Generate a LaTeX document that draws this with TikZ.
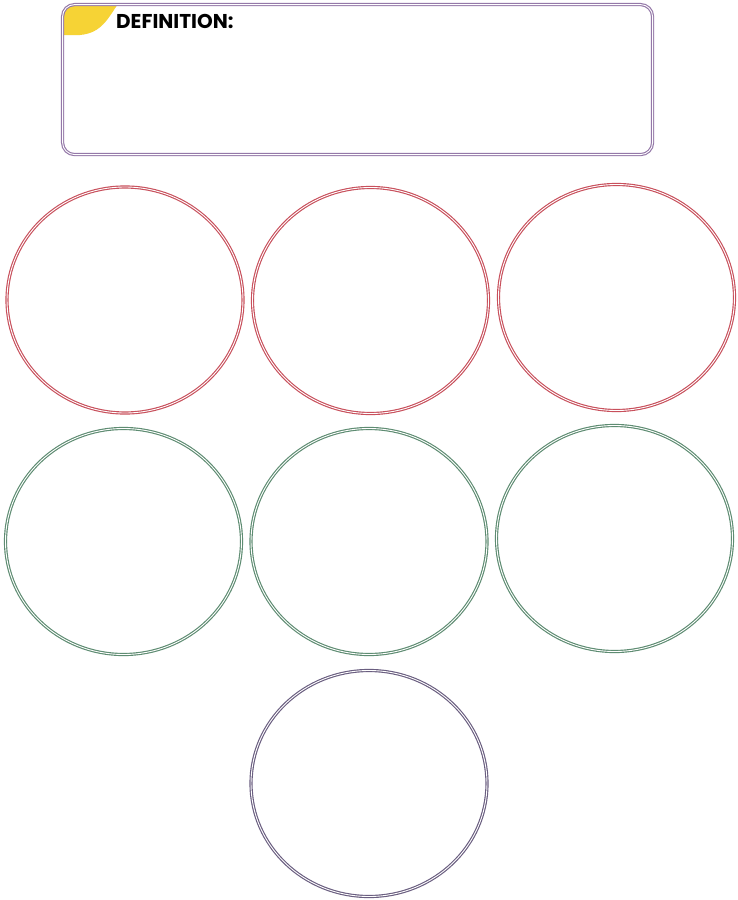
\documentclass[tikz,border=0pt]{standalone}
\usepackage{fontspec}
\setmainfont{Poppins}
\definecolor{cred}{HTML}{C8505C}
\definecolor{cgreen}{HTML}{5E8C72}
\definecolor{cpurple}{HTML}{9478A8}
\definecolor{cviolet}{HTML}{6A5E80}
\definecolor{cyellow}{HTML}{F6D335}
\tikzset{
  ring/.style={draw=#1, double=white, double distance=0.9pt, line width=1.15pt},
  bubble/.style={ring=#1, ellipse, minimum width=236pt, minimum height=226pt, inner sep=0pt}
}
\usetikzlibrary{shapes.geometric}
\begin{document}
\begin{tikzpicture}[x=1pt,y=-1pt]
\useasboundingbox (0,0) rectangle (737,900);
\fill[white] (0,0) rectangle (737,900);
% yellow tab
\fill[cyellow] (62,35) -- (62,16) arc[start angle=180,end angle=270,radius=12] -- (118,4)
  .. controls (108,18) and (102,33) .. (80,35) -- cycle;
% definition box
\node[ring=cpurple, rectangle, rounded corners=12pt, minimum width=590pt, minimum height=150pt, anchor=north west, inner sep=0pt] (defbox) at (62,4) {};
\node[anchor=west, font=\bfseries\fontsize{20}{22}\selectfont, inner sep=0pt] (deflabel) at (116,21) {DEFINITION:};
% circles
\node[bubble=cred] (r1) at (125,300) {};
\node[bubble=cred] (r2) at (370.5,300.5) {};
\node[bubble=cred] (r3) at (616.5,297.5) {};
\node[bubble=cgreen] (g1) at (123.5,541.5) {};
\node[bubble=cgreen] (g2) at (369,541.5) {};
\node[bubble=cgreen] (g3) at (614.5,538.5) {};
\node[bubble=cviolet] (v1) at (369,783.5) {};
\end{tikzpicture}
\end{document}
